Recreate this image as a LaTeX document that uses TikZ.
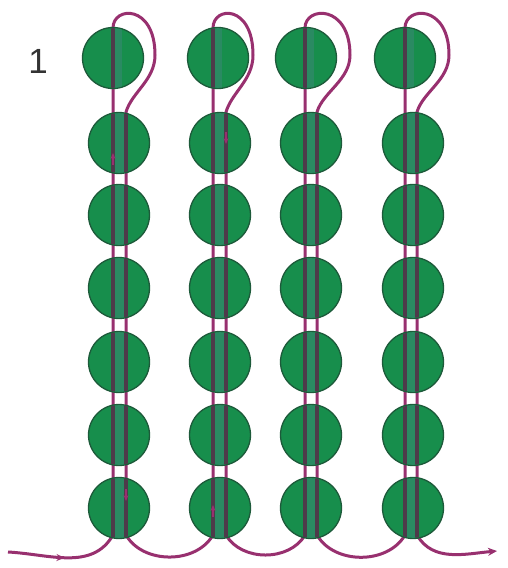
\documentclass[tikz,border=0pt]{standalone}
\usepackage{fontspec}
\setsansfont{Liberation Sans}
\usetikzlibrary{arrows.meta,decorations.markings}
\definecolor{beadfill}{HTML}{178E4C}
\definecolor{beadline}{HTML}{1D5A3A}
\definecolor{beadmid}{HTML}{2A8A62}
\definecolor{thread}{HTML}{98306F}
\definecolor{threadin}{HTML}{4E3A4A}
\begin{document}
\begin{tikzpicture}[x=1pt,y=-1pt,
  bead/.style={circle,draw=beadline,fill=beadfill,line width=1.3pt,minimum size=61pt,inner sep=0pt},
  thr/.style={draw=thread,line width=3pt},
  thrin/.style={draw=threadin,line width=3.2pt},
  midfill/.style={fill=beadmid},
  midarrow/.style={decoration={markings,mark=at position 0.5 with {\arrow{Stealth[length=8pt,width=7pt]}}},postaction={decorate}},
  smallarrow/.style={draw=thread,line width=2.2pt,-{Stealth[length=6pt,width=5pt]}},
  lbl/.style={font=\sffamily\fontsize{35}{35}\selectfont,text=black!80,inner sep=0pt}]
\useasboundingbox (0,0) rectangle (508,568);
\fill[white] (0,0) rectangle (508,568);
% thread coordinates
\foreach \c/\L/\R/\W in {1/113/126/42,2/213/226/40,3/305/317/45,4/405/417/44}{
  \coordinate (lb\c) at (\L,535);
  \coordinate (rb\c) at (\R,535);
  \coordinate (lt\c) at (\L,28);
  \coordinate (lside\c) at (\L+\W,55);
  \coordinate (rt\c) at (\R,112);
  \draw[thr] (lb\c) -- (lt\c) .. controls (\L,6) and (\L+\W,4) .. (lside\c) .. controls (\L+\W,80) and (\R+6,92) .. (rt\c) -- (rb\c);
}
\coordinate (in) at (8,552);
\coordinate (out) at (497,551);
\draw[thr,midarrow] (in) to[out=-3,in=-120] (lb1);
\draw[thr] (rb1) to[out=-60,in=-120] (lb2);
\draw[thr] (rb2) to[out=-60,in=-120] (lb3);
\draw[thr] (rb3) to[out=-60,in=-120] (lb4);
\draw[thr,-{Stealth[length=9pt,width=8pt]}] (rb4) to[out=-60,in=185] (out);
% beads
\foreach \c/\xt/\x in {1/113/119,2/218/220,3/306/311,4/405/413}{
  \node[bead] (b-\c-1) at (\xt,58) {};
  \foreach \r/\y in {2/143,3/215,4/288,5/362,6/435,7/508}{
    \node[bead] (b-\c-\r) at (\x,\y) {};
  }
}
% thread seen through the beads
\foreach \c/\L/\R in {1/113/126,2/213/226,3/305/317,4/405/417}{
  \begin{scope}
    \clip (b-\c-1.center) circle (29.8pt);
    \fill[midfill] (\L+1.5,0) rectangle (\L+9,120);
    \draw[thrin] (\L,0) -- (\L,120);
  \end{scope}
  \foreach \r in {2,...,7}{
    \begin{scope}
      \clip (b-\c-\r.center) circle (29.8pt);
      \fill[midfill] (\L+1.5,100) rectangle (\R-1.5,545);
      \draw[thrin] (\L,100) -- (\L,545);
      \draw[thrin] (\R,100) -- (\R,545);
    \end{scope}
  }
}
% small direction arrows
\coordinate (a1s) at (113,165); \coordinate (a1e) at (113,153);
\coordinate (a2s) at (226,132); \coordinate (a2e) at (226,144);
\coordinate (a3s) at (126,489); \coordinate (a3e) at (126,501);
\coordinate (a4s) at (213,517); \coordinate (a4e) at (213,505);
\draw[smallarrow] (a1s) -- (a1e);
\draw[smallarrow] (a2s) -- (a2e);
\draw[smallarrow] (a3s) -- (a3e);
\draw[smallarrow] (a4s) -- (a4e);
\node[lbl] (label) at (38,61) {1};
\end{tikzpicture}
\end{document}
